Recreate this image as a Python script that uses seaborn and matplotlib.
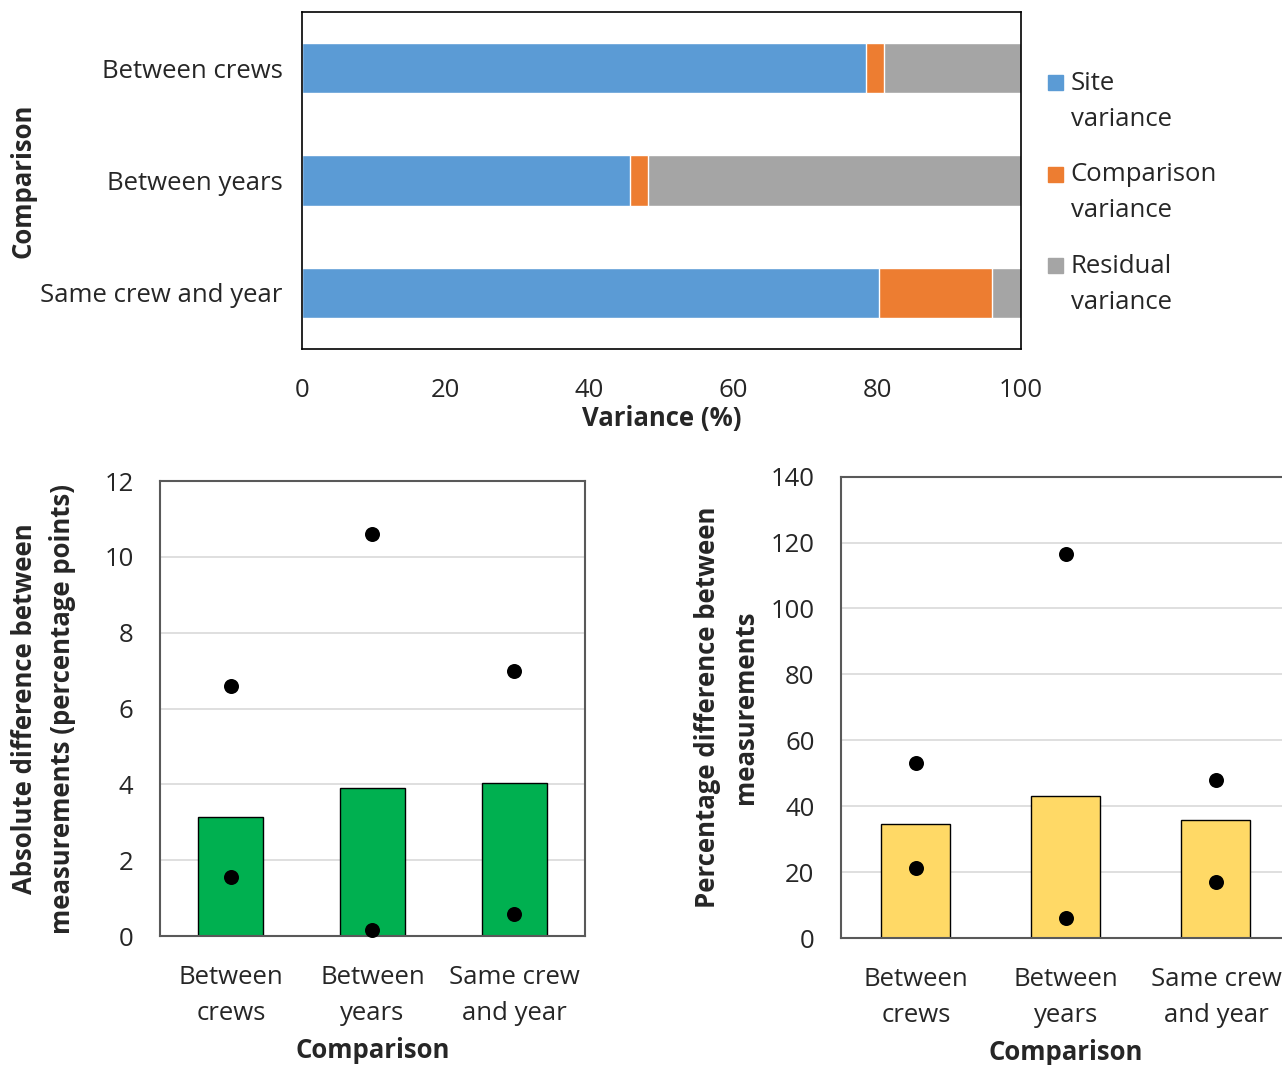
import numpy as np
import pandas as pd
import matplotlib
matplotlib.use("Agg")
import matplotlib.pyplot as plt
from matplotlib.patches import Rectangle
from matplotlib.legend_handler import HandlerPatch
import seaborn as sns

# data
comparisons = ["Between crews", "Between years", "Same crew and year"]
comparisons_wrapped = ["Between\ncrews", "Between\nyears", "Same crew\nand year"]

site_var = [78.4, 45.6, 80.3]
comparison_var = [2.5, 2.5, 15.6]
residual_var = [19.1, 51.9, 4.1]

abs_mean = [3.14, 3.91, 4.04]
abs_max = [6.6, 10.6, 7.0]
abs_min = [1.56, 0.17, 0.57]

pct_mean = [34.5, 43.0, 35.7]
pct_max = [53.1, 116.6, 47.9]
pct_min = [21.4, 6.1, 17.0]

sns.set_style("white")
plt.rcParams['font.family'] = ['Open Sans', 'DejaVu Sans']

BLUE = "#5B9BD5"
ORANGE = "#ED7D31"
GREY = "#A5A5A5"
GREEN = "#00B050"
YELLOW = "#FFD966"
FS = 18.5
LSP = 1.56

fig = plt.figure(figsize=(12.82, 10.65), dpi=100)

# ---- top: stacked variance bars
ax1 = fig.add_axes([0.2356, 0.6723, 0.5608, 0.3164])
var_df = pd.DataFrame({
    "comparison": comparisons,
    "site": site_var,
    "comp": comparison_var,
    "resid": residual_var,
})
var_df["c2"] = var_df["site"] + var_df["comp"]
var_df["c3"] = var_df["c2"] + var_df["resid"]

# overlay cumulative totals so they read as stacked segments
sns.barplot(data=var_df, y="comparison", x="c3", color=GREY, width=0.45,
            saturation=1, ax=ax1, orient="h")
sns.barplot(data=var_df, y="comparison", x="c2", color=ORANGE, width=0.45,
            saturation=1, ax=ax1, orient="h")
sns.barplot(data=var_df, y="comparison", x="site", color=BLUE, width=0.45,
            saturation=1, ax=ax1, orient="h")

ax1.set_xlim(0, 100)
ax1.set_ylim(2.5, -0.5)
ax1.set_xticks(np.arange(0, 101, 20))
ax1.tick_params(axis="x", direction="out", length=9, width=1.2, color="black",
                labelsize=FS, pad=12)
ax1.tick_params(axis="y", length=0, labelsize=FS, pad=14)
for s in ax1.spines.values():
    s.set_color("black")
    s.set_linewidth(1.2)
ax1.set_xlabel("Variance (%)", fontsize=FS, fontweight="bold", labelpad=1)
ax1.set_ylabel("Comparison", fontsize=FS, fontweight="bold", labelpad=3)


def top_square(legend, orig_handle, xdescent, ydescent, width, height, fontsize):
    # square sits beside the first line of the two-line label
    size = 15 * 0.72
    return Rectangle((-xdescent, -ydescent + height - size * 0.8), size, size)


handles = [Rectangle((0, 0), 1, 1, color=c) for c in (BLUE, ORANGE, GREY)]
labels = ["Site\nvariance", "Comparison\nvariance", "Residual\nvariance"]
leg = fig.legend(handles, labels, loc="upper left",
                 bbox_to_anchor=(1048 / 1282, 1 - 71 / 1065),
                 frameon=False, fontsize=FS, handlelength=0.58,
                 handleheight=2.6, handletextpad=0.3, labelspacing=1.2,
                 borderpad=0, borderaxespad=0,
                 handler_map={Rectangle: HandlerPatch(patch_func=top_square)})
for t in leg.get_texts():
    t.set_linespacing(LSP)

# ---- bottom left: absolute difference
ax2 = fig.add_axes([0.1248, 0.1211, 0.3315, 0.4272])
abs_df = pd.DataFrame({"comparison": comparisons_wrapped, "mean": abs_mean,
                       "max": abs_max, "min": abs_min})
sns.barplot(data=abs_df, x="comparison", y="mean", color=GREEN, saturation=1,
            width=0.46, edgecolor="black", linewidth=1, ax=ax2)
sns.stripplot(data=abs_df, x="comparison", y="max", color="black", jitter=False,
              size=10.8, ax=ax2, zorder=5, clip_on=False)
sns.stripplot(data=abs_df, x="comparison", y="min", color="black", jitter=False,
              size=10.8, ax=ax2, zorder=5, clip_on=False)
ax2.set_ylim(0, 12)
ax2.set_yticks(np.arange(0, 13, 2))
ax2.set_ylabel("Absolute difference between\nmeasurements (percentage points)",
               fontsize=FS, fontweight="bold", labelpad=20, linespacing=LSP)

# ---- bottom right: percentage difference
ax3 = fig.add_axes([0.656, 0.1192, 0.351, 0.4333])
pct_df = pd.DataFrame({"comparison": comparisons_wrapped, "mean": pct_mean,
                       "max": pct_max, "min": pct_min})
sns.barplot(data=pct_df, x="comparison", y="mean", color=YELLOW, saturation=1,
            width=0.46, edgecolor="black", linewidth=1, ax=ax3)
sns.stripplot(data=pct_df, x="comparison", y="max", color="black", jitter=False,
              size=10.8, ax=ax3, zorder=5, clip_on=False)
sns.stripplot(data=pct_df, x="comparison", y="min", color="black", jitter=False,
              size=10.8, ax=ax3, zorder=5, clip_on=False)
ax3.set_ylim(0, 140)
ax3.set_yticks(np.arange(0, 141, 20))
ax3.set_ylabel("Percentage difference between\nmeasurements",
               fontsize=FS, fontweight="bold", labelpad=8, linespacing=LSP)

for ax in (ax2, ax3):
    ax.set_xlim(-0.5, 2.5)
    ax.yaxis.grid(True, color="#D9D9D9", linewidth=1.2)
    ax.set_axisbelow(True)
    ax.tick_params(length=0, labelsize=FS)
    ax.tick_params(axis="y", pad=19)
    ax.tick_params(axis="x", pad=21)
    for lab in ax.get_xticklabels():
        lab.set_linespacing(LSP)
    for s in ax.spines.values():
        s.set_color("#595959")
        s.set_linewidth(1.5)
    ax.set_xlabel("Comparison", fontsize=FS, fontweight="bold", labelpad=8)

fig.savefig("out.png", dpi=100)
